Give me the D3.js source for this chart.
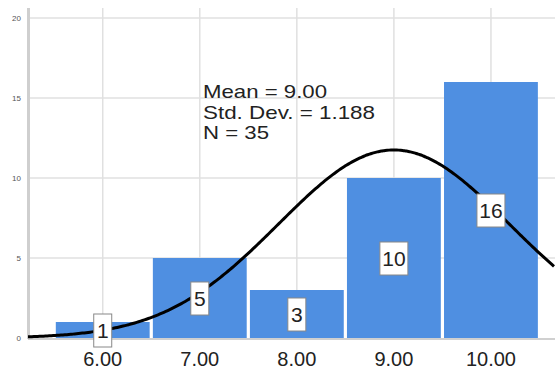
<!DOCTYPE html>
<html><head><meta charset="utf-8">
<script src="https://cdn.jsdelivr.net/npm/d3@7"></script>
<style>body{margin:0;background:#fff}svg{display:block}</style>
</head><body>
<svg id="c" width="555" height="369"></svg>
<script>
const categories = [6, 7, 8, 9, 10];
const counts = [1, 5, 3, 10, 16];
const xTickLabels = ["6.00", "7.00", "8.00", "9.00", "10.00"];
const yTicks = [0, 5, 10, 15, 20];
const mean = 9.00, sd = 1.188, N = 35;
const statsLines = ["Mean = 9.00", "Std. Dev. = 1.188", "N = 35"];

const svg = d3.select("#c");
const x = d3.scaleLinear().domain([5.23, 10.66]).range([28, 555]);
const y = d3.scaleLinear().domain([0, 20]).range([338, 18]);
const font = "'Liberation Sans', Arial, sans-serif";

// gridlines
svg.append("g").selectAll("line.h").data(yTicks.slice(1)).join("line")
  .attr("x1", 28).attr("x2", 555).attr("y1", d => y(d)).attr("y2", d => y(d))
  .attr("stroke", "#e0e0e0").attr("stroke-width", 1.5);
svg.append("g").selectAll("line.v").data(categories).join("line")
  .attr("x1", d => x(d)).attr("x2", d => x(d)).attr("y1", 8).attr("y2", 338)
  .attr("stroke", "#e0e0e0").attr("stroke-width", 1.5);

// axes lines
svg.append("line").attr("x1", 28.5).attr("x2", 28.5).attr("y1", 8).attr("y2", 339)
  .attr("stroke", "#cfcfcf").attr("stroke-width", 3);
svg.append("line").attr("x1", 28).attr("x2", 555).attr("y1", 339).attr("y2", 339)
  .attr("stroke", "#d0d0d0").attr("stroke-width", 2);

// bars
const gap = 1.6;
svg.append("g").selectAll("rect").data(categories).join("rect")
  .attr("x", d => x(d - 0.5) + gap)
  .attr("width", d => x(d + 0.5) - x(d - 0.5) - 2 * gap)
  .attr("y", (d, i) => y(counts[i]))
  .attr("height", (d, i) => y(0) - y(counts[i]))
  .attr("fill", "#4f8fe1");

// y tick labels
svg.append("g").selectAll("text").data(yTicks).join("text")
  .attr("x", 21).attr("y", d => y(d) + 3)
  .attr("text-anchor", "end").attr("font-family", font).attr("font-size", 8)
  .attr("fill", "#555").text(d => d);

// x tick labels
svg.append("g").selectAll("text").data(categories).join("text")
  .attr("x", d => x(d)).attr("y", 366)
  .attr("text-anchor", "middle").attr("font-family", font).attr("font-size", 20)
  .attr("fill", "#222").text((d, i) => xTickLabels[i]);

// normal curve
const pts = d3.range(5.23, 10.67, 0.02).map(v => [v, N * 1 / (sd * Math.sqrt(2 * Math.PI)) * Math.exp(-0.5 * ((v - mean) / sd) ** 2)]);
svg.append("path").datum(pts)
  .attr("d", d3.line().x(d => x(d[0])).y(d => y(d[1])).curve(d3.curveBasis))
  .attr("fill", "none").attr("stroke", "#000").attr("stroke-width", 3);

// value labels
const lg = svg.append("g").selectAll("g").data(categories).join("g")
  .attr("transform", (d, i) => `translate(${x(d)},${y(counts[i] / 2)})`);
lg.append("rect")
  .attr("x", (d, i) => String(counts[i]).length > 1 ? -14 : -9)
  .attr("width", (d, i) => String(counts[i]).length > 1 ? 28 : 18)
  .attr("y", -16).attr("height", 33)
  .attr("fill", "#fff").attr("stroke", "#888").attr("stroke-width", 1);
lg.append("text").attr("text-anchor", "middle").attr("y", 8)
  .attr("font-family", font).attr("font-size", 21).attr("fill", "#222")
  .text((d, i) => counts[i]);

// stats text
const statsWidths = [124, 172, 66];
svg.append("g").selectAll("text").data(statsLines).join("text")
  .attr("x", 203).attr("y", (d, i) => 98 + i * 20.5)
  .attr("font-family", font).attr("font-size", 19).attr("fill", "#222")
  .attr("textLength", (d, i) => statsWidths[i]).attr("lengthAdjust", "spacingAndGlyphs")
  .text(d => d);
</script>
</body></html>
